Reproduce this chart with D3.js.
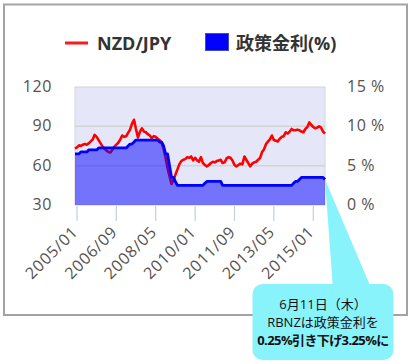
<!DOCTYPE html>
<html>
<head>
<meta charset="utf-8">
<script src="https://cdn.jsdelivr.net/npm/d3@7"></script>
<style>
  html, body { margin: 0; padding: 0; background: #fff; }
  svg { display: block; font-family: "Open Sans", "Noto Sans CJK JP", sans-serif; }
</style>
</head>
<body>
<svg id="chart" width="412" height="364"></svg>
<script>
// monthly closes, first point 2004/12
const firstMonth = '2004/12'

const nzdjpy = [
  73, 74, 75.5, 75, 76, 76.5, 76, 77, 78.5, 80, 83.5, 82, 79.5,
  77, 74.5, 73, 71.5, 70.5, 70, 72, 74.5, 76, 77.5, 80, 83,
  82, 82.5, 85, 87.5, 92, 95, 88, 81.5, 86, 88.5, 86, 85.5,
  84, 83, 81, 82.5, 82, 80.5, 79.5, 77.5, 73, 66, 58, 52,
  46, 49, 53, 57, 61, 63.5, 64.5, 65, 66.5, 66, 67, 64,
  66, 64, 63, 66.5, 62, 60.5, 59.5, 60.5, 62, 63, 62.5, 63.5,
  64, 64.5, 62, 62.5, 65.5, 66.5, 66, 64, 60.5, 59.5, 60.5, 61.5,
  61, 67, 64.5, 62, 59.5, 61.5, 62.5, 63, 64.5, 66, 70.5, 72.5,
  76.5, 78.5, 80, 83, 79.5, 79, 78.5, 80.5, 82, 82.5, 85.5, 84.5,
  86, 88, 87, 87, 87.5, 87, 86, 85.5, 88, 89.5, 93, 91,
  89.5, 88.5, 89, 90, 89, 86, 84.5
]

// RBNZ official cash rate (%)
const policyRate = [
  6.5, 6.5, 6.5, 6.75, 6.75, 6.75, 6.75, 7, 7, 7, 7, 7, 7.25,
  7.25, 7.25, 7.25, 7.25, 7.25, 7.25, 7.25, 7.25, 7.25, 7.25, 7.25, 7.25,
  7.25, 7.25, 7.5, 7.75, 7.75, 8, 8.25, 8.25, 8.25, 8.25, 8.25, 8.25,
  8.25, 8.25, 8.25, 8.25, 8.25, 8.25, 8, 8, 7.5, 6.5, 6.5, 5,
  3.5, 3.5, 3, 2.5, 2.5, 2.5, 2.5, 2.5, 2.5, 2.5, 2.5, 2.5,
  2.5, 2.5, 2.5, 2.5, 2.5, 2.75, 3, 3, 3, 3, 3, 3,
  3, 3, 2.5, 2.5, 2.5, 2.5, 2.5, 2.5, 2.5, 2.5, 2.5, 2.5,
  2.5, 2.5, 2.5, 2.5, 2.5, 2.5, 2.5, 2.5, 2.5, 2.5, 2.5, 2.5,
  2.5, 2.5, 2.5, 2.5, 2.5, 2.5, 2.5, 2.5, 2.5, 2.5, 2.5, 2.5,
  2.5, 2.5, 2.75, 3, 3, 3.25, 3.5, 3.5, 3.5, 3.5, 3.5, 3.5,
  3.5, 3.5, 3.5, 3.5, 3.5, 3.5, 3.25
]

const xTickLabels = ['2005/01', '2006/09', '2008/05', '2010/01', '2011/09', '2013/05', '2015/01']
const fxTicks = [30, 60, 90, 120]
const rateTicks = [0, 5, 10, 15]

const legendLabels = ['NZD/JPY', '政策金利(%)']
const noteLines = ['6月11日（木）', 'RBNZは政策金利を', '0.25%引き下げ3.25%に']

const parseMonth = d3.timeParse('%Y/%m')
const start = parseMonth(firstMonth)
const data = nzdjpy.map((v, i) => ({
  date: d3.timeMonth.offset(start, i),
  fx: v,
  rate: policyRate[i]
}))

const plot = { left: 75, right: 325, top: 87, bottom: 205 }
const svg = d3.select('#chart')

const x = d3.scaleTime()
  .domain(d3.extent(data, d => d.date))
  .range([plot.left, plot.right])
const yFx = d3.scaleLinear().domain([30, 120]).range([plot.bottom, plot.top])
const yRate = d3.scaleLinear().domain([0, 15]).range([plot.bottom, plot.top])

// outer frame
svg.append('rect')
  .attr('x', 4).attr('y', 4.5)
  .attr('width', 403).attr('height', 310.5)
  .attr('fill', '#fff')
  .attr('stroke', '#a3a3a3')
  .attr('stroke-width', 2)

// legend
const legend = svg.append('g').attr('font-size', 18).attr('font-weight', 'bold').attr('fill', '#333')
legend.append('line')
  .attr('x1', 65).attr('x2', 88).attr('y1', 43).attr('y2', 43)
  .attr('stroke', '#ff1a1a').attr('stroke-width', 3)
legend.append('text').attr('x', 97).attr('y', 50).text(legendLabels[0])
legend.append('rect')
  .attr('x', 205.5).attr('y', 33.5).attr('width', 23).attr('height', 17)
  .attr('fill', '#0000ff').attr('stroke', '#4a4ab8')
legend.append('text').attr('x', 236).attr('y', 50).text(legendLabels[1])

// plot background
svg.append('rect')
  .attr('x', plot.left).attr('y', plot.top)
  .attr('width', plot.right - plot.left).attr('height', plot.bottom - plot.top)
  .attr('fill', '#e6e6f9')
  .attr('stroke', '#d2d2dc')

svg.append('g')
  .selectAll('line')
  .data(fxTicks.slice(1, -1))
  .join('line')
  .attr('x1', plot.left).attr('x2', plot.right)
  .attr('y1', d => yFx(d)).attr('y2', d => yFx(d))
  .attr('stroke', '#d4d4d4').attr('stroke-width', 1.5)

// fx line under the rate area
svg.append('path')
  .datum(data)
  .attr('fill', 'none')
  .attr('stroke', '#ff0000')
  .attr('stroke-width', 2.6)
  .attr('stroke-linejoin', 'round')
  .attr('d', d3.line().x(d => x(d.date)).y(d => yFx(d.fx)))

svg.append('path')
  .datum(data)
  .attr('fill', '#0000ff')
  .attr('fill-opacity', 0.5)
  .attr('d', d3.area().x(d => x(d.date)).y0(yRate(0)).y1(d => yRate(d.rate)))

svg.append('path')
  .datum(data)
  .attr('fill', 'none')
  .attr('stroke', '#0000ff')
  .attr('stroke-width', 2.8)
  .attr('stroke-linejoin', 'round')
  .attr('d', d3.line().x(d => x(d.date)).y(d => yRate(d.rate)))

// axes
const axisText = '#57524e'

const xAxis = svg.append('g')
xAxis.selectAll('line')
  .data(xTickLabels)
  .join('line')
  .attr('x1', d => x(parseMonth(d))).attr('x2', d => x(parseMonth(d)))
  .attr('y1', plot.bottom + 1).attr('y2', plot.bottom + 16)
  .attr('stroke', '#c5d0dc').attr('stroke-width', 1.2)
xAxis.selectAll('text')
  .data(xTickLabels)
  .join('text')
  .attr('transform', d => `translate(${x(parseMonth(d)) + 2},${233}) rotate(-45)`)
  .attr('text-anchor', 'end')
  .attr('font-size', 16)
  .attr('letter-spacing', 0.8)
  .attr('fill', axisText)
  .text(d => d)

svg.append('g')
  .selectAll('text')
  .data(fxTicks)
  .join('text')
  .attr('x', 52)
  .attr('y', d => yFx(d) - 1)
  .attr('dominant-baseline', 'central')
  .attr('text-anchor', 'end')
  .attr('font-size', 16)
  .attr('letter-spacing', 0.6)
  .attr('fill', axisText)
  .text(d => d)

svg.append('g')
  .selectAll('text')
  .data(rateTicks)
  .join('text')
  .attr('x', 347)
  .attr('y', d => yRate(d) - 1)
  .attr('dominant-baseline', 'central')
  .attr('font-size', 16)
  .attr('letter-spacing', 0.5)
  .attr('fill', axisText)
  .text(d => `${d} %`)

// callout
const last = data[data.length - 1]
const tipX = x(last.date)
const tipY = yRate(last.rate)
const note = svg.append('g')
note.append('path')
  .attr('d', `M${tipX},${tipY} L333,290 L372,290 Z`)
  .attr('fill', '#88f3fb')
note.append('rect')
  .attr('x', 252.5).attr('y', 284).attr('width', 141).attr('height', 76)
  .attr('rx', 10)
  .attr('fill', '#88f3fb')
note.selectAll('text')
  .data(noteLines)
  .join('text')
  .attr('x', 323)
  .attr('y', (d, i) => 309 + i * 18)
  .attr('text-anchor', 'middle')
  .attr('font-size', 13)
  .attr('font-weight', (d, i) => i === 2 ? 'bold' : 'normal')
  .attr('letter-spacing', (d, i) => i === 2 ? -0.6 : 0)
  .attr('fill', '#111')
  .text(d => d)
</script>
</body>
</html>
